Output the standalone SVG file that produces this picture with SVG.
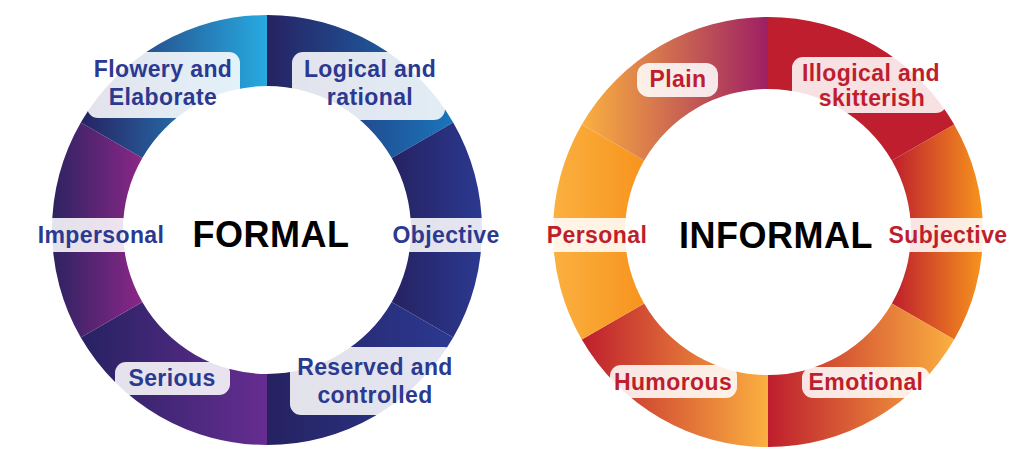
<svg xmlns="http://www.w3.org/2000/svg" width="1024" height="459" viewBox="0 0 1024 459">
<defs>
<linearGradient id="gL1"><stop offset="0" stop-color="#262262"/><stop offset="1" stop-color="#27aae1"/></linearGradient>
<linearGradient id="gL2"><stop offset="0" stop-color="#262262"/><stop offset="1" stop-color="#1b75bb"/></linearGradient>
<linearGradient id="gL3"><stop offset="0" stop-color="#262262"/><stop offset="1" stop-color="#2b3990"/></linearGradient>
<linearGradient id="gL4"><stop offset="0" stop-color="#262262"/><stop offset="1" stop-color="#2b3990"/></linearGradient>
<linearGradient id="gL5"><stop offset="0" stop-color="#262262"/><stop offset="1" stop-color="#662d91"/></linearGradient>
<linearGradient id="gL6"><stop offset="0" stop-color="#2d2361"/><stop offset="1" stop-color="#8b2787"/></linearGradient>
<linearGradient id="gR1"><stop offset="0" stop-color="#fbb040"/><stop offset="1" stop-color="#9e1f63"/></linearGradient>
<linearGradient id="gR3"><stop offset="0" stop-color="#be1e2d"/><stop offset="1" stop-color="#f7941d"/></linearGradient>
<linearGradient id="gR4"><stop offset="0" stop-color="#be1e2d"/><stop offset="1" stop-color="#fbb040"/></linearGradient>
<linearGradient id="gR6"><stop offset="0" stop-color="#fbb040"/><stop offset="1" stop-color="#f7941d"/></linearGradient>
</defs>
<style>
.box{fill:#ffffff;fill-opacity:0.87}
.lbl{font-family:"Liberation Sans",Arial,sans-serif;font-weight:bold;font-size:23px;text-anchor:middle;letter-spacing:0.4px}
.blue{fill:#2b3990}
.red{fill:#be1e2d}
.title{font-family:"Liberation Sans",Arial,sans-serif;font-weight:bold;font-size:36px;text-anchor:middle;letter-spacing:0.5px;fill:#000}
</style>
<rect width="1024" height="459" fill="#ffffff"/>
<g id="formal-ring">
<path d="M267 15 A215 215 0 0 1 453.19 122.5 L391.71 158 A144 144 0 0 0 267 86 Z" fill="url(#gL2)"/>
<path d="M453.19 122.5 A215 215 0 0 1 453.19 337.5 L391.71 302 A144 144 0 0 0 391.71 158 Z" fill="url(#gL3)"/>
<path d="M453.19 337.5 A215 215 0 0 1 267 445 L267 374 A144 144 0 0 0 391.71 302 Z" fill="url(#gL4)"/>
<path d="M267 445 A215 215 0 0 1 80.81 337.5 L142.29 302 A144 144 0 0 0 267 374 Z" fill="url(#gL5)"/>
<path d="M80.81 337.5 A215 215 0 0 1 80.81 122.5 L142.29 158 A144 144 0 0 0 142.29 302 Z" fill="url(#gL6)"/>
<path d="M80.81 122.5 A215 215 0 0 1 267 15 L267 86 A144 144 0 0 0 142.29 158 Z" fill="url(#gL1)"/>
</g>
<g id="informal-ring">
<path d="M768 17 A215 215 0 0 1 954.19 124.5 L891.84 160.5 A143 143 0 0 0 768 89 Z" fill="#be1e2d"/>
<path d="M954.19 124.5 A215 215 0 0 1 954.19 339.5 L891.84 303.5 A143 143 0 0 0 891.84 160.5 Z" fill="url(#gR3)"/>
<path d="M954.19 339.5 A215 215 0 0 1 768 447 L768 375 A143 143 0 0 0 891.84 303.5 Z" fill="url(#gR4)"/>
<path d="M768 447 A215 215 0 0 1 581.81 339.5 L644.16 303.5 A143 143 0 0 0 768 375 Z" fill="url(#gR4)"/>
<path d="M581.81 339.5 A215 215 0 0 1 581.81 124.5 L644.16 160.5 A143 143 0 0 0 644.16 303.5 Z" fill="url(#gR6)"/>
<path d="M581.81 124.5 A215 215 0 0 1 768 17 L768 89 A143 143 0 0 0 644.16 160.5 Z" fill="url(#gR1)"/>
</g>
<g id="flowery"><rect class="box" x="87" y="52" width="153" height="66" rx="11"/><text class="lbl blue" x="163" y="77">Flowery and</text><text class="lbl blue" x="163" y="105">Elaborate</text></g>
<g id="logical"><rect class="box" x="292" y="52" width="153" height="68" rx="11"/><text class="lbl blue" x="370" y="77">Logical and</text><text class="lbl blue" x="370" y="105">rational</text></g>
<g id="impersonal"><rect class="box" x="30" y="218" width="138" height="34"/><text class="lbl blue" x="101" y="243">Impersonal</text></g>
<g id="objective"><rect class="box" x="386" y="218" width="120" height="34"/><text class="lbl blue" x="446" y="243">Objective</text></g>
<g id="serious"><rect class="box" x="115" y="362" width="115" height="33" rx="11"/><text class="lbl blue" x="172" y="386">Serious</text></g>
<g id="reserved"><rect class="box" x="290" y="347" width="165" height="68" rx="11"/><text class="lbl blue" x="375" y="375">Reserved and</text><text class="lbl blue" x="375" y="403">controlled</text></g>
<g id="formal"><text class="title" x="271" y="247">FORMAL</text></g>
<g id="plain"><rect class="box" x="637" y="63" width="81" height="34" rx="12"/><text class="lbl red" x="678" y="87">Plain</text></g>
<g id="illogical"><rect class="box" x="792" y="57" width="155" height="56" rx="11"/><text class="lbl red" x="871" y="81">Illogical and</text><text class="lbl red" x="872" y="106">skitterish</text></g>
<g id="personal"><rect class="box" x="545" y="218" width="105" height="34"/><text class="lbl red" x="597" y="243">Personal</text></g>
<g id="subjective"><rect class="box" x="885" y="218" width="125" height="34"/><text class="lbl red" x="948" y="243">Subjective</text></g>
<g id="humorous"><rect class="box" x="610" y="365" width="127" height="33" rx="11"/><text class="lbl red" x="673" y="390">Humorous</text></g>
<g id="emotional"><rect class="box" x="802" y="367" width="128" height="31" rx="11"/><text class="lbl red" x="866" y="390">Emotional</text></g>
<g id="informal"><text class="title" x="776" y="248">INFORMAL</text></g>
</svg>
